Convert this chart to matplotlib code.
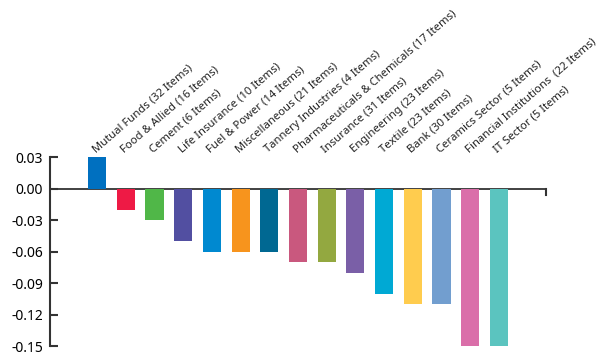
import matplotlib.pyplot as plt
import numpy as np

plt.rcParams['font.family'] = ['Noto Sans', 'DejaVu Sans']

# data
sectors = ['Mutual Funds (32 Items)', 'Food & Allied (16 Items)', 'Cement (6 Items)',
           'Life Insurance (10 Items)', 'Fuel & Power (14 Items)', 'Miscellaneous (21 Items)',
           'Tannery Industries (4 Items)', 'Pharmaceuticals & Chemicals (17 Items)',
           'Insurance (31 Items)', 'Engineering (23 Items)', 'Textile (23 Items)',
           'Bank (30 Items)', 'Ceramics Sector (5 Items)', 'Financial Institutions  (22 Items)',
           'IT Sector (5 Items)']
values = [0.03, -0.02, -0.03, -0.05, -0.06, -0.06, -0.06, -0.07, -0.07, -0.08,
          -0.10, -0.11, -0.11, -0.15, -0.15]
colors = ['#0070C0', '#EE1A45', '#50B748', '#524FA1', '#0089D0', '#F7941D', '#006892',
          '#C9587E', '#93A840', '#7A5FA7', '#00A9D4', '#FFCC4E', '#729ECF', '#DA6EA9',
          '#5BC4BF']
yticks = [0.03, 0.00, -0.03, -0.06, -0.09, -0.12, -0.15]

fig = plt.figure(figsize=(6.01, 3.53), dpi=100)
ax = fig.add_axes([0.0832, 0.0198, 0.9085 - 0.0832, 0.5552 - 0.0198])

x = np.arange(len(values))
ax.bar(x, values, 0.63, color=colors, zorder=2)

ax.set_ylim(-0.15, 0.03)
xmax = len(values) - 1 + 1.64
ax.set_xlim(-1.64, xmax)

# zero line with small end tick
ax.axhline(0, color='#333333', lw=1.3, zorder=1)
ax.plot([xmax, xmax], [0, -0.006], color='#333333', lw=1.5, clip_on=False)

for s in ['top', 'right', 'bottom']:
    ax.spines[s].set_visible(False)
ax.spines['left'].set_color('#333333')
ax.spines['left'].set_linewidth(1.5)

ax.set_yticks(yticks)
ax.set_yticklabels(['%.2f' % v if v >= 0 else '-%.2f' % abs(v) for v in yticks])
ax.tick_params(axis='y', direction='in', length=6, width=1.5, color='#333333',
               labelsize=10, pad=5)
ax.set_xticks([])

for i, lab in enumerate(sectors):
    ax.annotate(lab, (x[i] - 0.05, 0.03), xytext=(0, 3), textcoords='offset points',
                rotation=41, rotation_mode='anchor', ha='left', va='baseline',
                fontsize=8.1, color='#222222', annotation_clip=False)

fig.savefig('out.png', dpi=100)
